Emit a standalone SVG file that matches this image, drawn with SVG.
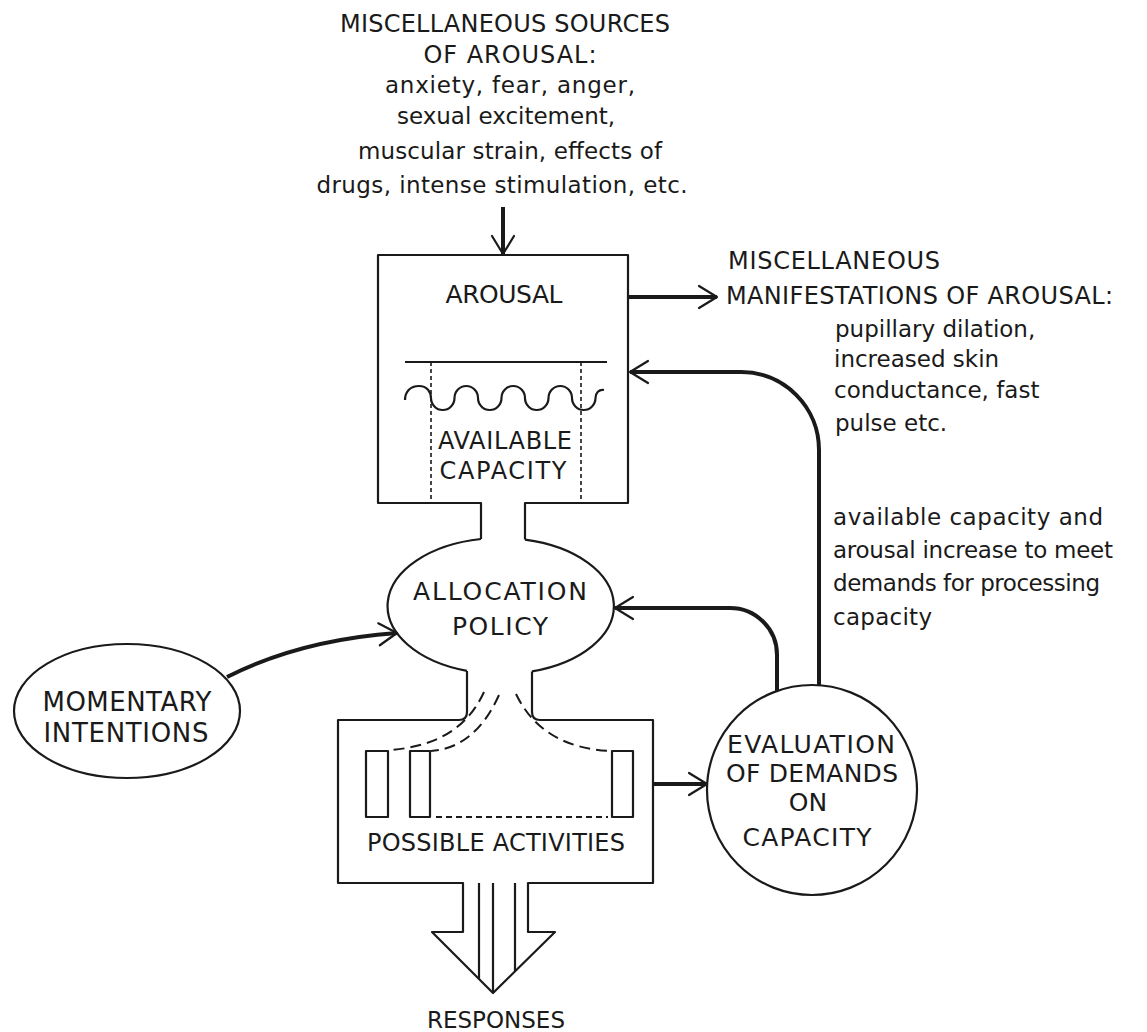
<svg xmlns="http://www.w3.org/2000/svg" width="1147" height="1032" viewBox="0 0 1147 1032">
<defs>
<style>
.t{font-family:"DejaVu Sans","Liberation Sans",Arial,sans-serif;fill:#1a1a1a}
.cap{font-size:25px}
.lc{font-size:23px}
.ln{fill:none;stroke:#1a1a1a;stroke-width:2.2;stroke-linejoin:round}
.thin{fill:none;stroke:#1a1a1a;stroke-width:1.6}
.dash{fill:none;stroke:#1a1a1a;stroke-width:2;stroke-dasharray:11 6}
.conn{fill:none;stroke:#1a1a1a;stroke-width:4;marker-end:url(#ah)}
</style>
<marker id="ah" viewBox="-21 -13 23 26" refX="0" refY="0" markerWidth="23" markerHeight="26" markerUnits="userSpaceOnUse" orient="auto">
<path d="M-18,-11 L0,0 L-18,11" fill="none" stroke="#1a1a1a" stroke-width="2.2" stroke-linejoin="round" stroke-linecap="round"/>
</marker>
</defs>
<rect width="1147" height="1032" fill="#ffffff"/>

<g id="sources">
<text class="t" font-size="24" text-anchor="middle" x="505" y="32" textLength="330">MISCELLANEOUS SOURCES</text>
<text class="t" font-size="24" text-anchor="middle" x="510" y="63" textLength="173">OF AROUSAL:</text>
<text class="t lc" text-anchor="middle" x="510" y="93" textLength="250">anxiety, fear, anger,</text>
<text class="t lc" text-anchor="middle" x="506" y="124" textLength="218">sexual excitement,</text>
<text class="t lc" text-anchor="middle" x="510" y="159" textLength="304">muscular strain, effects of</text>
<text class="t lc" text-anchor="middle" x="502" y="193" textLength="371">drugs, intense stimulation, etc.</text>
</g>

<g id="arousal">
<path class="ln" d="M481,539 V503 H378 V255 H628 V503 H525 V539.6"/>
<text class="t cap" text-anchor="middle" x="504" y="303" textLength="117">AROUSAL</text>
<line class="ln" x1="405" y1="362" x2="607" y2="362"/>
<line class="thin" x1="431" y1="362" x2="431" y2="503" stroke-dasharray="4 3"/>
<line class="thin" x1="581" y1="362" x2="581" y2="503" stroke-dasharray="4 3"/>
<path class="ln" d="M405,400 C405,392 410,386 419,386 C427,386 431,392 431,398 A11.75,12 0 0 0 454.5,398 A11.75,12 0 0 1 478,398 A11.75,12 0 0 0 501.5,398 A11.75,12 0 0 1 525,398 A11.75,12 0 0 0 548.5,398 A11.75,12 0 0 1 572,398 A11.75,12 0 0 0 595.5,398 C595.5,393 599,389 604,390"/>
<text class="t" font-size="24" text-anchor="middle" x="505" y="449" textLength="134">AVAILABLE</text>
<text class="t" font-size="24" text-anchor="middle" x="503" y="479" textLength="127">CAPACITY</text>
</g>

<g id="manifestations">
<text class="t" font-size="24" x="728" y="269" textLength="212">MISCELLANEOUS</text>
<text class="t" font-size="24" x="726" y="304" textLength="387">MANIFESTATIONS OF AROUSAL:</text>
<text class="t lc" x="835" y="337">pupillary dilation,</text>
<text class="t lc" x="834" y="367">increased skin</text>
<text class="t lc" x="834" y="398">conductance, fast</text>
<text class="t lc" x="835" y="431">pulse etc.</text>
</g>

<g id="feedback-label">
<text class="t lc" x="833" y="525" textLength="270">available capacity and</text>
<text class="t lc" x="833" y="558" textLength="280">arousal increase to meet</text>
<text class="t lc" x="833" y="591" textLength="267">demands for processing</text>
<text class="t lc" x="833" y="625" textLength="99">capacity</text>
</g>

<g id="allocation">
<path class="ln" d="M525,539.6 A113,68 0 0 1 532,671.4 M467,670.9 A113,68 0 0 1 481,539"/>
<text class="t cap" text-anchor="middle" x="500" y="600" textLength="174">ALLOCATION</text>
<text class="t cap" text-anchor="middle" x="500" y="635" textLength="96">POLICY</text>
</g>

<g id="momentary">
<ellipse class="ln" cx="127" cy="711" rx="113" ry="67"/>
<text class="t" font-size="26" text-anchor="middle" x="127" y="711" textLength="169">MOMENTARY</text>
<text class="t" font-size="26" text-anchor="middle" x="126" y="742" textLength="165">INTENTIONS</text>
</g>

<g id="activities">
<path class="ln" d="M467,670.9 V712 Q467,720 459,720 H338 V883 H463 V932 H432 L493,993 L555,932 H528 V883 H653 V720 H540 Q532,720 532,712 V671.4"/>
<line class="ln" x1="479" y1="883" x2="479" y2="979"/>
<line class="ln" x1="493" y1="883" x2="493" y2="993"/>
<line class="ln" x1="515" y1="883" x2="515" y2="971"/>
<rect class="ln" x="366" y="751" width="22" height="66"/>
<rect class="ln" x="410" y="751" width="20" height="66"/>
<rect class="ln" x="612" y="751" width="21" height="66"/>
<line class="ln" x1="436" y1="817" x2="608" y2="817" stroke-dasharray="6 4"/>
<path class="dash" d="M484,692 Q460,745 390,750"/>
<path class="dash" d="M499,695 Q475,748 431,751"/>
<path class="dash" d="M516,694 Q542,748 611,751"/>
<text class="t" font-size="24" text-anchor="middle" x="496" y="851" textLength="258">POSSIBLE ACTIVITIES</text>
<text class="t" font-size="23" text-anchor="middle" x="496" y="1028" textLength="138">RESPONSES</text>
</g>

<g id="evaluation">
<circle class="ln" cx="812" cy="790" r="105"/>
<text class="t cap" text-anchor="middle" x="811" y="753" textLength="168">EVALUATION</text>
<text class="t cap" text-anchor="middle" x="812" y="782" textLength="172">OF DEMANDS</text>
<text class="t cap" text-anchor="middle" x="808" y="811">ON</text>
<text class="t cap" text-anchor="middle" x="807" y="846" textLength="129">CAPACITY</text>
</g>

<g id="connectors">
<path class="conn" d="M503,207 V254"/>
<path class="conn" d="M628,297 H717"/>
<path class="conn" d="M819,685 V450 A78,78 0 0 0 741,372 H630"/>
<path class="conn" d="M777,691 V655 A47,47 0 0 0 730,608 H615"/>
<path class="conn" d="M227,677 Q300,640 397,633"/>
<path class="conn" d="M653,784 H707"/>
</g>
</svg>
